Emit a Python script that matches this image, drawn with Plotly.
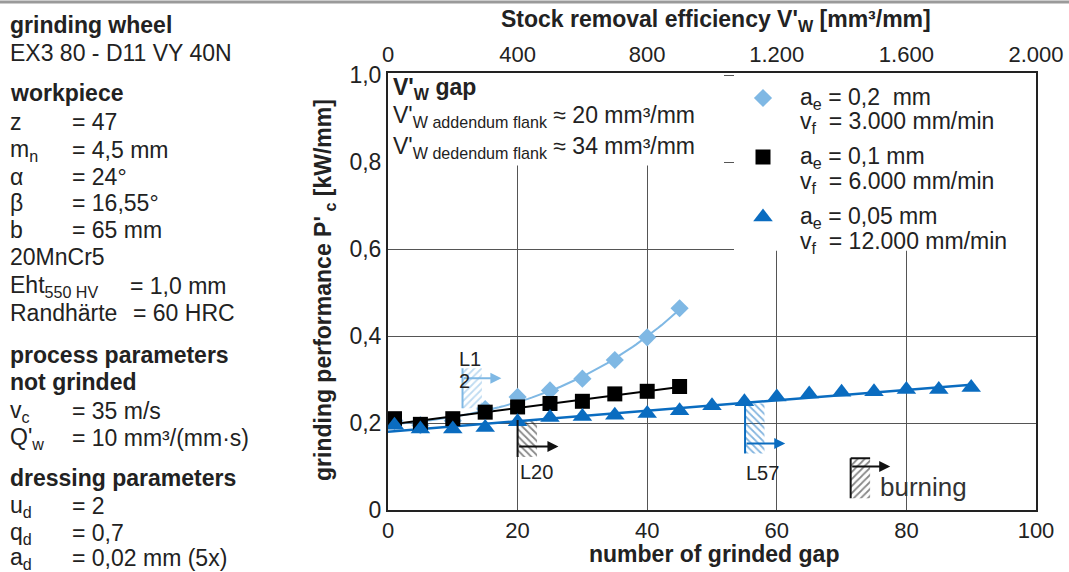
import numpy as np
import plotly.graph_objects as go

# ---------------- data ----------------
gap_d = [1, 5, 10, 15, 20, 25, 30, 35, 40, 45]
pc_d = [0.205, 0.195, 0.205, 0.232, 0.260, 0.275, 0.302, 0.345, 0.397, 0.464]

gap_s = [1, 5, 10, 15, 20, 25, 30, 35, 40, 45]
pc_s = [0.210, 0.197, 0.210, 0.225, 0.237, 0.245, 0.250, 0.267, 0.273, 0.284]

gap_t = [1, 5, 10, 15, 20, 25, 30, 35, 40, 45, 50, 55, 60, 65, 70, 75, 80, 85, 90]
pc_t = [0.195, 0.186, 0.186, 0.190, 0.203, 0.213, 0.215, 0.218, 0.222, 0.228,
        0.240, 0.249, 0.260, 0.267, 0.271, 0.272, 0.277, 0.277, 0.282]

legend_line1 = ["a<sub>e</sub> = 0,2  mm", "a<sub>e</sub> = 0,1 mm", "a<sub>e</sub> = 0,05 mm"]
legend_line2 = ["v<sub>f</sub>  = 3.000 mm/min", "v<sub>f</sub>  = 6.000 mm/min",
                "v<sub>f</sub>  = 12.000 mm/min"]

top_ticks = [0, 400, 800, 1200, 1600, 2000]
top_labels = ["0", "400", "800", "1.200", "1.600", "2.000"]
y_ticks = [0, 0.2, 0.4, 0.6, 0.8, 1.0]
y_labels = ["0", "0,2", "0,4", "0,6", "0,8", "1,0"]
x_ticks = [0, 20, 40, 60, 80, 100]

# limit markers: (label, x, y_low, y_high, arrow_y, arrow_end, colour, hatch)
limits = [
    ("L1", 11.5, 0.234, 0.326, 0.303, 17.5, "#7fb8e4", "/"),
    ("L20", 20.0, 0.122, 0.207, 0.146, 26.3, "#111111", "\\"),
    ("L57", 55.1, 0.130, 0.245, 0.153, 61.3, "#0a6cc0", "\\"),
    ("burning", 71.4, 0.027, 0.119, 0.100, 77.5, "#111111", "/"),
]

LIGHT = "#7fb8e4"
BLUE = "#0a6cc0"
BLACK = "#000000"
TXT = "#222222"
FONT = "Liberation Sans, Arial, sans-serif"
FS = 23

W, H = 1069, 572
ML, MR, MT, MB = 388, 33, 73, 62
PW, PH = W - ML - MR, H - MT - MB

# legend key layout (pixels)
KEY_X, TEXT_X = 763, 798
KEY_Y = [98, 157, 217]
ROW2 = 25


def px(xp):
    return (xp - ML) / PW


def py(yp):
    return (H - MB - yp) / PH


fig = go.Figure()

# hatched limit regions
for lab, xl, y0, y1, ya, xe, col, hatch in limits:
    fig.add_trace(go.Scatter(
        x=[xl, xl + 3, xl + 3, xl, xl], y=[y0, y0, y1, y1, y0],
        mode="lines", fill="toself", line=dict(width=0, color=col),
        fillcolor="rgba(0,0,0,0)",
        fillpattern=dict(shape=hatch, fgcolor=col, bgcolor="rgba(255,255,255,0)",
                         size=5, solidity=0.35),
        showlegend=False, hoverinfo="skip"))

# trend lines (fitted to the data)
xd = np.linspace(min(gap_d), max(gap_d), 80)
cd = np.polyfit(gap_d, pc_d, 3)
fig.add_trace(go.Scatter(x=xd, y=np.polyval(cd, xd), mode="lines",
                         line=dict(color=LIGHT, width=2), showlegend=False, hoverinfo="skip"))
xs = np.array([0, max(gap_s)])
cs = np.polyfit(gap_s, pc_s, 1)
fig.add_trace(go.Scatter(x=xs, y=np.polyval(cs, xs), mode="lines",
                         line=dict(color=BLACK, width=2), showlegend=False, hoverinfo="skip"))
xt = np.array([0, max(gap_t)])
ct = np.polyfit(gap_t, pc_t, 1)
fig.add_trace(go.Scatter(x=xt, y=np.polyval(ct, xt), mode="lines",
                         line=dict(color=BLUE, width=2.5), showlegend=False, hoverinfo="skip"))

# markers
symbols = [("diamond", 14, LIGHT), ("square", 15, BLACK), ("triangle-up", 17, BLUE)]
for (gx, gy), (sym, sz, col) in zip([(gap_d, pc_d), (gap_s, pc_s), (gap_t, pc_t)], symbols):
    fig.add_trace(go.Scatter(x=gx, y=gy, mode="markers",
                             marker=dict(symbol=sym, size=sz, color=col),
                             showlegend=False))

# legend keys on a pixel-space overlay axis
for ky, (sym, sz, col) in zip(KEY_Y, symbols):
    fig.add_trace(go.Scatter(x=[KEY_X], y=[ky], xaxis="x3", yaxis="y3", mode="markers",
                             marker=dict(symbol=sym, size=sz, color=col),
                             showlegend=False, hoverinfo="skip"))

# invisible trace for the top axis
fig.add_trace(go.Scatter(x=[top_ticks[0], top_ticks[-1]], y=[None, None], xaxis="x2",
                         mode="markers", showlegend=False, hoverinfo="skip"))

shapes = []
# white boxes covering the grid
shapes.append(dict(type="rect", xref="x", yref="y", x0=0, x1=(724 - ML) / PW * 100,
                   y0=0.792, y1=1.005, fillcolor="white", line=dict(width=0), layer="between"))
shapes.append(dict(type="rect", xref="x", yref="y", x0=(734 - ML) / PW * 100, x1=100,
                   y0=0.596, y1=1.005, fillcolor="white", line=dict(width=0), layer="between"))
# limit vertical lines
for lab, xl, y0, y1, ya, xe, col, hatch in limits:
    shapes.append(dict(type="line", xref="x", yref="y", x0=xl, x1=xl, y0=y0, y1=y1,
                       line=dict(color=col, width=2)))
    if lab == "burning":
        shapes.append(dict(type="line", xref="x", yref="y", x0=xl, x1=xl + 3, y0=y1, y1=y1,
                           line=dict(color=col, width=2)))
# grey line at very top
shapes.append(dict(type="line", xref="paper", yref="paper", x0=px(0), x1=px(W),
                   y0=py(2), y1=py(2), line=dict(color="#9a9a9a", width=3)))

ann = []


def txt(x, y, s, size=FS, anchor="left", bold=False, color=TXT, angle=0):
    if bold:
        s = "<b>" + s + "</b>"
    ann.append(dict(x=px(x), y=py(y), xref="paper", yref="paper", text=s, showarrow=False,
                    xanchor=anchor, yanchor="middle", textangle=angle,
                    font=dict(family=FONT, size=size, color=color)))


# arrows of the limit markers
for lab, xl, y0, y1, ya, xe, col, hatch in limits:
    ann.append(dict(x=xe, y=ya, ax=xl, ay=ya, xref="x", yref="y", axref="x", ayref="y",
                    text="", showarrow=True, arrowhead=2, arrowsize=1.1, arrowwidth=2,
                    arrowcolor=col))

txt(470, 359, "L1", 20, anchor="center")
txt(464, 381, "2", 20, anchor="center")
txt(536, 472, "L20", 20, anchor="center")
txt(762, 473, "L57", 20, anchor="center")
txt(923, 487, "burning", 26, anchor="center", color="#333333")

# legend text
for ky, l1, l2 in zip(KEY_Y, legend_line1, legend_line2):
    txt(TEXT_X, ky, l1, FS)
    txt(TEXT_X, ky + ROW2, l2, FS)

# left panel
left = [
    (25, "grinding wheel", None, True),
    (53, "EX3 80 - D11 VY 40N", None, False),
    (93, "workpiece", None, True),
    (122, "z", "= 47", False),
    (150, "m<sub>n</sub>", "= 4,5 mm", False),
    (177, "α", "= 24°", False),
    (203, "β", "= 16,55°", False),
    (230, "b", "= 65 mm", False),
    (257, "20MnCr5", None, False),
    (286, "Eht<sub>550 HV</sub>", "= 1,0 mm", False),
    (313, "Randhärte", "= 60 HRC", False),
    (355, "process parameters", None, True),
    (382, "not grinded", None, True),
    (411, "v<sub>c</sub>", "= 35 m/s", False),
    (438, "Q'<sub>w</sub>", "= 10 mm³/(mm·s)", False),
    (478, "dressing parameters", None, True),
    (506, "u<sub>d</sub>", "= 2", False),
    (533, "q<sub>d</sub>", "= 0,7", False),
    (558, "a<sub>d</sub>", "= 0,02 mm (5x)", False),
]
for y, lab, val, b in left:
    txt(8, y, lab, FS, bold=b)
    if val is not None:
        xv = 70
        if lab.startswith("Eht"):
            xv = 128
        elif lab.startswith("Rand"):
            xv = 131
        txt(xv, y, val, FS)

# box text
txt(391, 88, "V'<sub>W</sub> gap", FS, bold=True)
txt(391, 116, "V'<sub>W addendum flank</sub> ≈ 20 mm³/mm", FS)
txt(391, 147, "V'<sub>W dedendum flank</sub> ≈ 34 mm³/mm", FS)

# axis titles
txt(716, 20, "Stock removal efficiency V'<sub>W</sub> [mm³/mm]", FS, anchor="center", bold=True)
txt(714, 554, "number of grinded gap", FS, anchor="center", bold=True)
ann.append(dict(x=px(324), y=py(290), xref="paper", yref="paper",
                text="<b>grinding performance P'<sub> c</sub> [kW/mm]</b>", showarrow=False,
                xanchor="center", yanchor="middle", textangle=-90,
                font=dict(family=FONT, size=FS, color=TXT)))

axis_common = dict(showline=True, linecolor="#222222", linewidth=2, zeroline=False,
                   automargin=False)

fig.update_layout(
    width=W, height=H, margin=dict(l=ML, r=MR, t=MT, b=MB, pad=0, autoexpand=False),
    paper_bgcolor="white", plot_bgcolor="white", showlegend=False,
    font=dict(family=FONT, size=FS, color=TXT),
    xaxis=dict(range=[0, 100], tickvals=x_ticks, showgrid=True, gridcolor="#555555",
               gridwidth=1, mirror=True, ticks="inside", ticklen=5, tickcolor="#555555",
               tickfont=dict(family=FONT, size=22, color=TXT), **axis_common),
    xaxis2=dict(range=[top_ticks[0], top_ticks[-1]], overlaying="x", side="top", anchor="y",
                tickvals=top_ticks, ticktext=top_labels, showgrid=False, ticks="",
                ticklabelstandoff=0, tickfont=dict(family=FONT, size=22, color=TXT),
                **axis_common),
    xaxis3=dict(range=[ML, W - MR], overlaying="x", anchor="y3", visible=False),
    yaxis=dict(range=[0, 1.005], tickvals=y_ticks, ticktext=y_labels, showgrid=True,
               gridcolor="#555555", gridwidth=1, mirror=True, ticks="",
               tickfont=dict(family=FONT, size=FS, color=TXT), **axis_common),
    yaxis3=dict(range=[H - MB, MT], overlaying="y", anchor="x3", visible=False),
    shapes=shapes, annotations=ann,
)

fig.write_html("out.html", config={"displayModeBar": False},
               post_script="document.body.style.margin='0';document.body.style.overflow='hidden';")
